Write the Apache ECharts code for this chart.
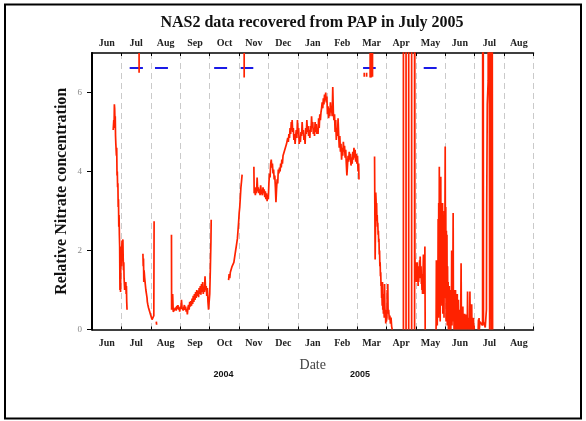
<!DOCTYPE html>
<html>
<head>
<meta charset="utf-8">
<script src="https://cdn.jsdelivr.net/npm/echarts@6/dist/echarts.min.js"></script>
<style>
html, body { margin: 0; padding: 0; background: #fff; }
#chart { width: 586px; height: 421px; }
</style>
</head>
<body>
<div id="chart"></div>
<script>
// month bands on both date axes (Jun 2004 .. Aug 2005)
var months = ['Jun', 'Jul', 'Aug', 'Sep', 'Oct', 'Nov', 'Dec', 'Jan', 'Feb', 'Mar', 'Apr', 'May', 'Jun', 'Jul', 'Aug'];
var yearLabels = ['2004', '2005'];

// nitrate record, x = months since 1 Jun 2004, y = relative nitrate
var segJun = [[0.72,5.05],[0.74,5.3],[0.75,5.1],[0.76,5.7],[0.77,5.6],[0.78,5.3],[0.79,5.4],[0.80,4.9],[0.81,4.7],[0.82,4.75],
  [0.83,4.4],[0.84,4.6],[0.85,3.9],[0.86,4.0],[0.87,3.6],[0.88,3.7],[0.89,3.1],[0.90,3.3],[0.91,2.6],[0.92,2.9],[0.93,2.4],
  [0.94,2.1],[0.95,1.0],[0.96,1.7],[0.97,0.95],[0.98,1.8],[0.99,2.1],[1.00,1.6],[1.01,2.0],[1.02,2.25],[1.03,1.9],[1.04,2.2],
  [1.05,2.28],[1.06,1.8],[1.07,1.5],[1.08,1.7],[1.09,1.3],[1.10,1.25],[1.11,1.0],[1.12,1.2],[1.13,1.15],[1.14,1.05],[1.15,1.2],
  [1.16,0.9],[1.17,1.1],[1.18,0.7],[1.19,0.5]];
var segJul = [[1.73,1.92],[1.74,1.6],[1.75,1.8],[1.76,1.2],[1.77,1.5],[1.78,1.55],[1.79,1.3],[1.80,1.35],[1.81,1.15],[1.82,1.2],
  [1.83,1.0],[1.84,1.05],[1.85,0.9],[1.86,0.95],[1.87,0.8],[1.88,0.7],[1.89,0.75],[1.90,0.62],[1.91,0.65],[1.92,0.55],[1.93,0.6],
  [1.94,0.5],[1.95,0.58],[1.96,0.45],[1.97,0.5],[1.98,0.4],[1.99,0.42],[2.00,0.35],[2.01,0.38],[2.02,0.3],[2.03,0.33],[2.04,0.25],
  [2.05,0.28],[2.06,0.2],[2.07,0.3],[2.08,0.22],[2.09,0.3],[2.10,0.35],[2.11,2.74]];
var segAugDot = [[2.185,0.2],[2.195,0.12]];
var segAugSep = [[2.70,2.4],[2.705,0.5],[2.72,0.75],[2.74,0.9],[2.76,0.45],[2.78,0.42],[2.80,0.5],[2.82,0.44],[2.84,0.55],
  [2.86,0.48],[2.88,0.6],[2.90,0.52],[2.92,0.62],[2.94,0.5],[2.96,0.56],[2.98,0.45],[3.00,0.58],[3.02,0.52],[3.04,0.75],[3.06,0.55],
  [3.08,0.6],[3.10,0.48],[3.12,0.55],[3.14,0.62],[3.16,0.5],[3.18,0.58],[3.20,0.45],[3.22,0.52],[3.24,0.38],[3.26,0.55],[3.28,0.62],
  [3.30,0.5],[3.32,0.7],[3.34,0.58],[3.36,0.72],[3.38,0.6],[3.40,0.78],[3.42,0.65],[3.44,0.85],[3.46,0.7],[3.48,0.9],[3.50,0.75],
  [3.52,0.95],[3.54,0.8],[3.56,1.0],[3.58,0.85],[3.60,0.98],[3.62,0.82],[3.64,1.05],[3.66,0.9],[3.68,1.1],[3.70,0.88],[3.72,1.15],
  [3.74,0.95],[3.76,1.2],[3.78,0.9],[3.80,1.05],[3.82,0.95],[3.84,1.35],[3.86,1.0],[3.88,1.1],[3.90,0.85],[3.92,1.05],[3.94,0.7],
  [3.96,0.5],[3.98,0.46],[4.00,0.9],[4.02,1.5],[4.04,2.2],[4.05,2.78]];
var segOct = [[4.64,1.25],[4.66,1.4],[4.68,1.3],[4.70,1.45],[4.72,1.5],[4.74,1.48],[4.76,1.6],[4.78,1.55],[4.80,1.65],[4.82,1.7],
  [4.84,1.75],[4.86,1.9],[4.88,2.0],[4.90,2.1],[4.92,2.2],[4.94,2.3],[4.96,2.5],[4.98,2.7],[5.00,2.95],[5.02,3.1],[5.04,3.35],
  [5.06,3.6],[5.08,3.75],[5.10,3.92]];
var segWinter = [[5.50,4.12],[5.51,3.45],[5.53,3.55],[5.55,3.4],[5.57,3.6],[5.59,3.45],[5.61,3.85],[5.63,3.5],[5.65,3.6],[5.67,3.45],
  [5.69,3.55],[5.71,3.4],[5.73,3.65],[5.75,3.5],[5.77,3.55],[5.79,3.4],[5.81,3.6],[5.83,3.45],[5.85,3.55],[5.87,3.35],[5.89,3.5],
  [5.91,3.3],[5.93,3.45],[5.95,3.25],[5.97,3.4],[5.99,3.3],[6.01,3.7],[6.03,3.95],[6.05,3.85],[6.07,4.2],[6.09,4.3],[6.11,4.1],
  [6.13,4.2],[6.15,3.95],[6.17,4.05],[6.19,3.8],[6.21,3.9],[6.23,3.6],[6.25,3.22],[6.27,3.55],[6.29,3.8],[6.31,3.7],[6.33,4.05],
  [6.35,3.95],[6.37,4.1],[6.39,4.0],[6.41,4.2],[6.43,4.1],[6.45,4.3],[6.47,4.2],[6.49,4.4],[6.51,4.35],[6.53,4.5],[6.55,4.45],
  [6.57,4.6],[6.59,4.55],[6.61,4.7],[6.63,4.65],[6.65,4.85],[6.67,4.75],[6.69,4.95],[6.71,4.85],[6.73,5.1],[6.75,4.95],[6.77,5.25],
  [6.79,5.1],[6.80,5.3],[6.82,5.0],[6.84,5.1],[6.86,4.8],[6.88,4.95],[6.90,4.7],[6.92,4.9],[6.94,5.05],[6.96,4.85],[6.98,5.3],
  [7.00,4.95],[7.02,5.1],[7.04,4.7],[7.06,4.85],[7.08,4.75],[7.10,5.0],[7.12,4.9],[7.14,5.25],[7.16,4.95],[7.18,5.05],[7.20,4.8],
  [7.22,4.9],[7.24,4.7],[7.26,5.1],[7.28,4.95],[7.30,5.3],[7.32,5.0],[7.34,5.15],[7.36,4.9],[7.38,5.05],[7.40,4.85],[7.42,5.15],
  [7.44,5.0],[7.46,5.4],[7.48,5.1],[7.50,5.25],[7.52,4.95],[7.54,5.1],[7.56,4.9],[7.58,5.25],[7.60,5.0],[7.62,5.2],[7.64,4.95],
  [7.66,5.1],[7.68,4.95],[7.70,5.35],[7.72,5.1],[7.74,5.45],[7.76,5.3],[7.78,5.5],[7.80,5.6],[7.82,5.75],[7.84,5.6],[7.86,5.85],
  [7.88,5.7],[7.90,5.95],[7.92,5.8],[7.94,6.0],[7.96,5.75],[7.98,5.9],[8.00,5.45],[8.02,5.65],[8.04,5.35],[8.06,5.6],[8.08,5.4],
  [8.10,5.75],[8.12,5.5],[8.14,5.6],[8.16,5.4],[8.18,6.14],[8.20,5.5],[8.22,5.3],[8.24,5.45],[8.26,5.0],[8.28,5.3],[8.30,4.8],
  [8.32,5.1],[8.34,4.9],[8.36,5.35],[8.38,4.95],[8.40,4.6],[8.42,4.9],[8.44,4.5],[8.46,4.7],[8.48,4.3],[8.50,4.6],[8.52,4.4],
  [8.54,4.75],[8.56,4.5],[8.58,4.65],[8.60,4.35],[8.62,4.55],[8.64,4.2],[8.66,3.9],[8.68,4.15],[8.70,4.4],[8.72,4.25],[8.74,4.5],
  [8.76,4.3],[8.78,4.45],[8.80,4.15],[8.82,4.35],[8.84,4.2],[8.86,4.5],[8.88,4.3],[8.90,4.6],[8.92,4.35],[8.94,4.55],[8.96,4.25],
  [8.98,4.45],[9.00,4.2],[9.02,4.4],[9.04,4.0],[9.06,4.2],[9.07,3.8]];
var segMar = [[9.60,4.38],[9.61,3.0],[9.62,1.77],[9.63,2.5],[9.64,3.47],[9.65,3.3],[9.66,3.0],[9.67,3.2],[9.68,2.75],[9.69,2.9],
  [9.70,2.6],[9.71,2.7],[9.72,2.4],[9.73,2.5],[9.74,2.2],[9.75,2.3],[9.76,1.9],[9.77,2.0],[9.78,1.6],[9.79,1.7],[9.80,1.35],
  [9.81,1.45],[9.82,1.1],[9.83,1.2],[9.84,0.8],[9.85,0.9],[9.86,0.6],[9.87,1.2],[9.88,0.5],[9.89,0.7],[9.90,0.4],[9.91,0.9],
  [9.92,0.5],[9.93,0.3],[9.94,1.15],[9.95,0.6],[9.96,0.35],[9.97,0.5],[9.98,0.15],[9.99,0.4],[10.00,0.2],[10.02,0.3],[10.03,1.0],
  [10.04,0.5],[10.05,1.15],[10.06,0.4],[10.08,0.5],[10.10,0.25],[10.12,0.35],[10.14,0.15],[10.16,0.3],[10.18,0.08],[10.20,0]];
var segAprA = [[10.58,0],[10.58,20],[10.67,20],[10.67,0]];
var segAprB = [[10.76,0],[10.76,20],[10.86,20],[10.86,0]];
var segMay = [[10.96,0],[10.96,20],[10.97,1.9],[10.98,1.5],[10.99,1.7],[11.00,1.3],[11.01,1.6],[11.02,1.2],[11.03,1.5],[11.04,1.35],
  [11.05,1.7],[11.06,1.25],[11.07,1.55],[11.08,1.1],[11.09,1.4],[11.10,1.2],[11.11,1.6],[11.12,1.3],[11.13,1.75],[11.14,1.4],
  [11.15,1.85],[11.16,1.5],[11.17,1.3],[11.18,1.6],[11.19,1.15],[11.20,1.4],[11.21,1.0],[11.22,1.3],[11.23,0.9],[11.24,1.2],
  [11.26,1.9],[11.27,1.3],[11.28,0.9],[11.30,1.1],[11.31,2.1],[11.32,0]];
var segJune = [[11.69,0],[11.70,1.75],[11.71,0.2],[11.72,1.5],[11.73,0.1],[11.74,1.2],[11.75,0.5],[11.76,2.8],[11.77,0.3],[11.78,3.2],
  [11.79,0.8],[11.80,4.12],[11.81,1.0],[11.82,3.1],[11.83,0.2],[11.84,2.9],[11.85,3.87],[11.86,0.6],[11.87,3.1],[11.88,0.9],
  [11.89,2.6],[11.90,1.4],[11.91,3.2],[11.92,0.4],[11.93,2.8],[11.94,1.0],[11.95,2.2],[11.96,0.3],[11.97,3.0],[11.98,1.2],
  [11.99,2.6],[12.00,4.63],[12.01,0.8],[12.02,3.1],[12.03,0.2],[12.04,2.5],[12.05,0.9],[12.06,2.4],[12.07,0.1],[12.08,1.6],
  [12.09,0.4],[12.10,1.2],[12.11,0.0],[12.12,0.9],[12.13,0.2],[12.14,1.1],[12.15,0.0],[12.16,0.7],[12.17,0.3],[12.18,1.0],
  [12.19,0.0],[12.20,0.6],[12.21,0.2],[12.22,2.0],[12.23,0.1],[12.24,0.8],[12.25,0.3],[12.26,1.2],[12.27,2.95],[12.28,0.2],
  [12.29,0.9],[12.30,0.0],[12.31,1.0],[12.32,0.1],[12.33,0.6],[12.34,0.0],[12.35,1.0],[12.36,0.3],[12.37,0.5],[12.38,0.0],
  [12.39,0.6],[12.40,0.1],[12.41,0.9],[12.42,0.0],[12.43,0.4],[12.44,0.1],[12.45,0.75],[12.46,0.0],[12.47,0.3],[12.48,0.0],
  [12.49,0.5],[12.50,0.1],[12.51,0.3],[12.52,0.0],[12.53,0.6],[12.54,1.68],[12.55,0.2],[12.56,0.4],[12.57,0.0],[12.58,0.3],
  [12.59,0.1],[12.60,0.58],[12.61,0.0],[12.62,0.3],[12.63,0.1],[12.64,0.25],[12.65,0.0],[12.66,0.4],[12.67,0.1],[12.68,0.3],
  [12.69,0.0],[12.70,0.38],[12.71,0.1],[12.72,0.2],[12.73,0.0],[12.74,0.3],[12.75,0.05],[12.76,0.96],[12.77,0.1],[12.78,0.25],
  [12.79,0.0],[12.80,0.2],[12.81,0.05],[12.82,0.3],[12.83,0.0],[12.84,0.96],[12.85,0.1],[12.86,0.2],[12.87,0.0],[12.88,0.3],
  [12.89,0.1],[12.90,0.64],[12.91,0.0],[12.92,0.2],[12.93,0.05],[12.94,0.3],[12.95,0.0],[12.96,0.29],[12.97,0.0],[12.98,0.1],[12.99,0]];
var segJuly = [[13.12,0],[13.13,0.25],[13.14,0.05],[13.15,0.29],[13.16,0.0],[13.18,0.2],[13.27,0.1],[13.28,20],[13.29,20],
  [13.30,0.2],[13.36,0.05],[13.40,0.5],[13.41,3.1],[13.43,5.7],[13.46,6.3],[13.48,20],[13.50,20],[13.51,0],[13.53,6.3],
  [13.54,20],[13.56,20],[13.57,0],[13.58,20],[13.60,20],[13.61,0]];

// blue bars near the top: [start, end] in months, at one level
var blueLevel = 6.62;
var blueSpans = [[1.28,1.73],[2.14,2.58],[4.15,4.59],[5.05,5.48],[9.21,9.64],[11.27,11.71]];
// short red marks under the top axis: [x, top, bottom]
var redMarks = [[1.60,7,6.5],[5.17,7,6.38],[9.45,7,6.38],[9.49,7,6.38],[9.53,7,6.4],[9.25,6.5,6.4],[9.33,6.5,6.4]];

var nitrateSegs = [segJun, segJul, segAugDot, segAugSep, segOct, segWinter, segMar, segAprA, segAprB, segMay, segJune, segJuly];

var serif = 'Liberation Serif';
var chart = echarts.init(document.getElementById('chart'));

var series = [];
nitrateSegs.forEach(function (seg) {
  series.push({
    type: 'line', xAxisIndex: 0, yAxisIndex: 0, data: seg,
    symbol: 'none', silent: true, animation: false,
    lineStyle: { color: '#ff2200', width: 1.7 }
  });
});
blueSpans.forEach(function (s) {
  series.push({
    type: 'line', xAxisIndex: 0, yAxisIndex: 0,
    data: [[s[0], blueLevel], [s[1], blueLevel]],
    symbol: 'none', silent: true, animation: false,
    lineStyle: { color: '#1a1ae6', width: 2 }
  });
});
redMarks.forEach(function (m) {
  series.push({
    type: 'line', xAxisIndex: 0, yAxisIndex: 0,
    data: [[m[0], m[1]], [m[0], m[2]]],
    symbol: 'none', silent: true, animation: false,
    lineStyle: { color: '#ff2200', width: 1.7 }
  });
});

var monthLabel = { interval: 0, fontFamily: serif, fontWeight: 'bold', fontSize: 10, color: '#222' };

chart.setOption({
  animation: false,
  title: {
    text: 'NAS2 data recovered from PAP in July 2005',
    left: 307, top: 10, textAlign: 'center',
    textStyle: { fontFamily: serif, fontWeight: 'bold', fontSize: 16, color: '#111' }
  },
  grid: { left: 92, right: 52.5, top: 53, bottom: 91.5 },
  xAxis: [
    {
      type: 'value', min: 0, max: 15, interval: 1, position: 'bottom',
      axisLine: { show: false },
      axisTick: { inside: true, length: 3, lineStyle: { color: '#000' } },
      axisLabel: { show: false }, splitLine: { show: false }
    },
    {
      type: 'category', data: months, position: 'bottom', boundaryGap: true,
      axisLine: { lineStyle: { color: '#000', width: 1.5 } },
      axisTick: { interval: 0, length: 4, lineStyle: { color: '#000' } },
      axisLabel: Object.assign({ margin: 9 }, monthLabel),
      splitLine: { show: true, interval: 0, lineStyle: { color: '#cacaca', type: [6, 4], width: 1 } },
      name: 'Date', nameLocation: 'middle', nameGap: 29,
      nameTextStyle: { fontFamily: serif, fontSize: 14, color: '#444' }
    },
    {
      type: 'value', min: 0, max: 15, interval: 1, position: 'top',
      axisLine: { show: false },
      axisTick: { inside: true, length: 3, lineStyle: { color: '#000' } },
      axisLabel: { show: false }, splitLine: { show: false }
    },
    {
      type: 'category', data: months, position: 'top', boundaryGap: true,
      axisLine: { lineStyle: { color: '#000', width: 1.5 } },
      axisTick: { interval: 0, length: 4, lineStyle: { color: '#000' } },
      axisLabel: Object.assign({ margin: 5 }, monthLabel),
      splitLine: { show: false }
    }
  ],
  yAxis: [
    {
      type: 'value', min: 0, max: 7, interval: 2, position: 'left',
      axisLine: { show: true, lineStyle: { color: '#000', width: 2 } },
      axisTick: { show: true, length: 5, lineStyle: { color: '#000' } },
      axisLabel: { showMaxLabel: false, margin: 10, fontFamily: serif, fontSize: 9, color: '#888' },
      splitLine: { show: false },
      name: 'Relative Nitrate concentration', nameLocation: 'middle', nameGap: 22, nameMoveOverlap: false,
      nameTextStyle: { fontFamily: serif, fontWeight: 'bold', fontSize: 16, color: '#111' }
    },
    {
      type: 'value', min: 0, max: 7, position: 'right',
      axisLine: { show: true, lineStyle: { color: '#000', width: 1.5 } },
      axisTick: { show: false }, axisLabel: { show: false }, splitLine: { show: false }
    }
  ],
  graphic: [
    { type: 'rect', shape: { x: 5, y: 4.5, width: 576, height: 414 }, style: { fill: null, stroke: '#000', lineWidth: 2 } },
    { type: 'text', x: 223.5, y: 375, style: { text: yearLabels[0], fontFamily: 'Liberation Sans', fontWeight: 'bold', fontSize: 9, fill: '#111', textAlign: 'center', textVerticalAlign: 'middle' } },
    { type: 'text', x: 360, y: 375, style: { text: yearLabels[1], fontFamily: 'Liberation Sans', fontWeight: 'bold', fontSize: 9, fill: '#111', textAlign: 'center', textVerticalAlign: 'middle' } }
  ],
  series: series
});
</script>
</body>
</html>
